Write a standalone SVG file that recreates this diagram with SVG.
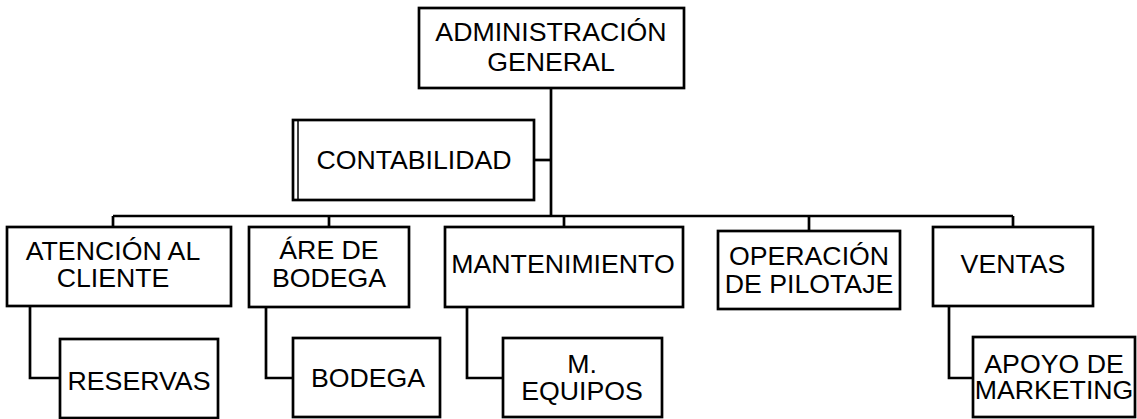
<svg xmlns="http://www.w3.org/2000/svg" width="1137" height="419" viewBox="0 0 1137 419">
<style>
.box{fill:#fff;stroke:#000;stroke-width:2.7}
.t{font-family:"Liberation Sans",Arial,sans-serif;font-size:26.7px;fill:#000;text-anchor:middle}
.c{fill:none;stroke:#000;stroke-width:2.7}
</style>
<rect width="1137" height="419" fill="#fff"/>
<g id="connectors">
<path class="c" d="M551 88V216"/>
<path class="c" d="M534 160H551"/>
<path class="c" d="M113 216H1013"/>
<path class="c" d="M113 216V228"/>
<path class="c" d="M329 216V228"/>
<path class="c" d="M564 216V232"/>
<path class="c" d="M809 216V231"/>
<path class="c" d="M1013 216V232"/>
<path class="c" d="M30 306V378H60"/>
<path class="c" d="M266 307V378H293"/>
<path class="c" d="M467 307V378H503"/>
<path class="c" d="M949 306V378H973"/>
</g>
<g id="n-admin">
<rect class="box" x="419" y="8" width="265" height="80"/>
<text class="t" x="551" y="41">ADMINISTRACIÓN</text>
<text class="t" x="551" y="71">GENERAL</text>
</g>
<g id="n-contabilidad">
<rect class="box" x="293" y="120" width="241" height="80"/>
<line x1="298" y1="120" x2="298" y2="200" stroke="#000" stroke-width="1.5"/>
<text class="t" x="414" y="169">CONTABILIDAD</text>
</g>
<g id="n-atencion">
<rect class="box" x="7" y="227" width="224" height="79"/>
<text class="t" x="113" y="260">ATENCIÓN AL</text>
<text class="t" x="113" y="287">CLIENTE</text>
</g>
<g id="n-reservas">
<rect class="box" x="60" y="339" width="158" height="79"/>
<text class="t" x="139" y="390">RESERVAS</text>
</g>
<g id="n-area-bodega">
<rect class="box" x="249" y="227" width="160" height="80"/>
<text class="t" x="329" y="259">ÁRE DE</text>
<text class="t" x="329" y="287">BODEGA</text>
</g>
<g id="n-bodega">
<rect class="box" x="293" y="338" width="147" height="79"/>
<text class="t" x="368" y="387">BODEGA</text>
</g>
<g id="n-mantenimiento">
<rect class="box" x="445" y="227" width="238" height="80"/>
<text class="t" x="563" y="273">MANTENIMIENTO</text>
</g>
<g id="n-equipos">
<rect class="box" x="503" y="338" width="159" height="79"/>
<text class="t" x="582" y="373">M.</text>
<text class="t" x="582" y="400">EQUIPOS</text>
</g>
<g id="n-operacion">
<rect class="box" x="718" y="231" width="182" height="78"/>
<text class="t" x="809" y="265">OPERACIÓN</text>
<text class="t" x="809" y="293">DE PILOTAJE</text>
</g>
<g id="n-ventas">
<rect class="box" x="933" y="227" width="160" height="79"/>
<text class="t" x="1013" y="273">VENTAS</text>
</g>
<g id="n-marketing">
<rect class="box" x="973" y="337" width="162" height="80"/>
<text class="t" x="1054" y="373">APOYO DE</text>
<text class="t" x="1054" y="399">MARKETING</text>
</g>
</svg>
